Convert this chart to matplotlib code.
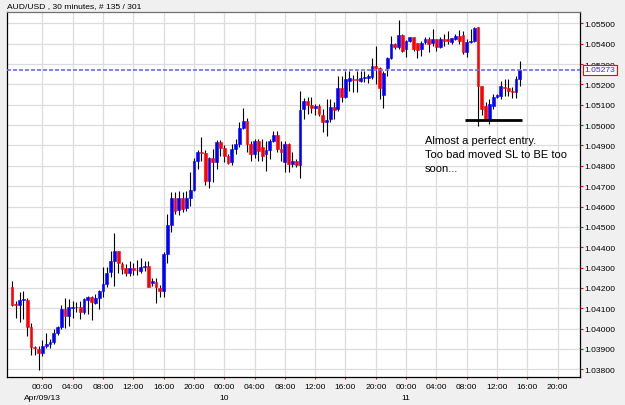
import numpy as np
import pandas as pd
import matplotlib
matplotlib.use("Agg")
import matplotlib.pyplot as plt
import matplotlib.transforms as mtransforms

plt.rcParams["font.family"] = ["Liberation Sans", "DejaVu Sans"]

# ─── Chart data (AUD/USD, 30 min bars from 2013-04-08 20:00) ─────────────────
TITLE      = "AUD/USD , 30 minutes, # 135 / 301"
FIRST_BAR  = "2013-04-08 20:00"
NOTE       = "Almost a perfect entry.\nToo bad moved SL to BE too\nsoon..."

opens = [
    1.04203, 1.04119, 1.04116, 1.04140, 1.04140, 1.04006, 1.03908, 1.03900, 1.03880, 1.03916,
    1.03923, 1.03932, 1.03978, 1.04006, 1.04096, 1.04060, 1.04102, 1.04104, 1.04107, 1.04080,
    1.04140, 1.04154, 1.04126, 1.04150, 1.04186, 1.04219, 1.04276, 1.04330, 1.04380, 1.04317,
    1.04296, 1.04273, 1.04296, 1.04288, 1.04284, 1.04301, 1.04309, 1.04222, 1.04230, 1.04198,
    1.04186, 1.04366, 1.04509, 1.04640, 1.04584, 1.04640, 1.04591, 1.04640, 1.04682, 1.04825,
    1.04866, 1.04861, 1.04727, 1.04838, 1.04820, 1.04915, 1.04886, 1.04849, 1.04820, 1.04882,
    1.04907, 1.04984, 1.05021, 1.04907, 1.04858, 1.04923, 1.04891, 1.04858, 1.04877, 1.04923,
    1.04951, 1.04882, 1.04817, 1.04907, 1.04809, 1.04825, 1.04805, 1.05079, 1.05120, 1.05099,
    1.05082, 1.05095, 1.05051, 1.05016, 1.05030, 1.05087, 1.05079, 1.05181, 1.05139, 1.05218,
    1.05226, 1.05225, 1.05218, 1.05230, 1.05230, 1.05235, 1.05292, 1.05280, 1.05148, 1.05280,
    1.05330, 1.05398, 1.05382, 1.05444, 1.05374, 1.05414, 1.05431, 1.05402, 1.05374, 1.05407,
    1.05423, 1.05402, 1.05423, 1.05382, 1.05423, 1.05423, 1.05407, 1.05423, 1.05439, 1.05443,
    1.05357, 1.05407, 1.05412, 1.05480, 1.05192, 1.05095, 1.05030, 1.05095, 1.05138, 1.05144,
    1.05189, 1.05182, 1.05167, 1.05161, 1.05226,
]
highs = [
    1.04232, 1.04137, 1.04178, 1.04186, 1.04150, 1.04027, 1.03916, 1.03916, 1.03945, 1.03978,
    1.03949, 1.03998, 1.04011, 1.04116, 1.04149, 1.04145, 1.04137, 1.04130, 1.04137, 1.04152,
    1.04161, 1.04161, 1.04170, 1.04191, 1.04301, 1.04301, 1.04380, 1.04470, 1.04383, 1.04328,
    1.04317, 1.04333, 1.04322, 1.04337, 1.04345, 1.04333, 1.04330, 1.04248, 1.04248, 1.04214,
    1.04378, 1.04563, 1.04672, 1.04670, 1.04674, 1.04670, 1.04674, 1.04769, 1.04837, 1.04877,
    1.04940, 1.04877, 1.04843, 1.04882, 1.04927, 1.04927, 1.04902, 1.04858, 1.04907, 1.04931,
    1.05013, 1.05082, 1.05033, 1.04923, 1.04931, 1.04931, 1.04931, 1.04923, 1.04931, 1.04972,
    1.04972, 1.04923, 1.04923, 1.04912, 1.04866, 1.04833, 1.05169, 1.05133, 1.05136, 1.05136,
    1.05103, 1.05103, 1.05079, 1.05128, 1.05128, 1.05112, 1.05243, 1.05243, 1.05267, 1.05267,
    1.05246, 1.05267, 1.05267, 1.05267, 1.05251, 1.05328, 1.05390, 1.05285, 1.05266, 1.05334,
    1.05439, 1.05403, 1.05516, 1.05447, 1.05418, 1.05434, 1.05433, 1.05403, 1.05414, 1.05434,
    1.05431, 1.05472, 1.05425, 1.05431, 1.05447, 1.05464, 1.05430, 1.05447, 1.05467, 1.05462,
    1.05423, 1.05472, 1.05480, 1.05484, 1.05193, 1.05113, 1.05128, 1.05153, 1.05153, 1.05218,
    1.05226, 1.05226, 1.05187, 1.05241, 1.05316,
]
lows = [
    1.04112, 1.04050, 1.04034, 1.04047, 1.03962, 1.03870, 1.03870, 1.03798, 1.03864, 1.03903,
    1.03903, 1.03924, 1.03968, 1.03998, 1.04001, 1.04011, 1.04050, 1.04081, 1.04047, 1.04072,
    1.04072, 1.04043, 1.04121, 1.04096, 1.04154, 1.04203, 1.04252, 1.04211, 1.04273, 1.04268,
    1.04257, 1.04260, 1.04263, 1.04263, 1.04273, 1.04284, 1.04203, 1.04211, 1.04126, 1.04154,
    1.04154, 1.04322, 1.04473, 1.04563, 1.04558, 1.04574, 1.04579, 1.04604, 1.04677, 1.04784,
    1.04825, 1.04705, 1.04691, 1.04722, 1.04784, 1.04849, 1.04820, 1.04809, 1.04804, 1.04858,
    1.04891, 1.04981, 1.04869, 1.04825, 1.04837, 1.04825, 1.04825, 1.04776, 1.04833, 1.04917,
    1.04869, 1.04825, 1.04768, 1.04768, 1.04792, 1.04792, 1.04738, 1.05030, 1.05054, 1.05058,
    1.05049, 1.05046, 1.04964, 1.04948, 1.05013, 1.05030, 1.05071, 1.05115, 1.05131, 1.05169,
    1.05161, 1.05161, 1.05210, 1.05210, 1.05207, 1.05226, 1.05202, 1.05128, 1.05084, 1.05243,
    1.05325, 1.05374, 1.05374, 1.05357, 1.05333, 1.05407, 1.05365, 1.05330, 1.05341, 1.05398,
    1.05357, 1.05390, 1.05362, 1.05379, 1.05388, 1.05398, 1.05398, 1.05418, 1.05398, 1.05349,
    1.05333, 1.05403, 1.05407, 1.04995, 1.05049, 1.05025, 1.05005, 1.05079, 1.05133, 1.05128,
    1.05144, 1.05144, 1.05131, 1.05131, 1.05193,
]
closes = [
    1.04116, 1.04114, 1.04142, 1.04143, 1.04008, 1.03911, 1.03903, 1.03878, 1.03916, 1.03923,
    1.03935, 1.03978, 1.04006, 1.04096, 1.04060, 1.04104, 1.04106, 1.04105, 1.04080, 1.04145,
    1.04154, 1.04129, 1.04150, 1.04183, 1.04219, 1.04273, 1.04330, 1.04380, 1.04321, 1.04293,
    1.04273, 1.04296, 1.04288, 1.04287, 1.04304, 1.04309, 1.04206, 1.04232, 1.04203, 1.04186,
    1.04366, 1.04509, 1.04640, 1.04579, 1.04640, 1.04587, 1.04640, 1.04681, 1.04825, 1.04866,
    1.04861, 1.04727, 1.04837, 1.04820, 1.04915, 1.04886, 1.04849, 1.04814, 1.04882, 1.04907,
    1.04984, 1.05021, 1.04907, 1.04858, 1.04923, 1.04874, 1.04849, 1.04877, 1.04923, 1.04951,
    1.04882, 1.04866, 1.04907, 1.04809, 1.04825, 1.04805, 1.05074, 1.05120, 1.05099, 1.05082,
    1.05095, 1.05054, 1.05013, 1.05025, 1.05087, 1.05075, 1.05181, 1.05139, 1.05226, 1.05230,
    1.05221, 1.05220, 1.05230, 1.05235, 1.05243, 1.05292, 1.05280, 1.05182, 1.05256, 1.05330,
    1.05398, 1.05382, 1.05444, 1.05365, 1.05412, 1.05431, 1.05374, 1.05369, 1.05402, 1.05423,
    1.05398, 1.05423, 1.05382, 1.05423, 1.05413, 1.05412, 1.05428, 1.05439, 1.05414, 1.05357,
    1.05407, 1.05413, 1.05477, 1.05192, 1.05079, 1.05032, 1.05103, 1.05139, 1.05150, 1.05193,
    1.05184, 1.05167, 1.05161, 1.05226, 1.05273,
]

# "entry" line drawn by hand on the chart
ENTRY_LEVEL = 1.05023
ENTRY_FROM  = "2013-04-11 07:45"
ENTRY_TO    = "2013-04-11 15:20"
NOTE_AT     = ("2013-04-11 02:30", 1.04951)

# ─── Axis ranges ─────────────────────────────────────────────────────────────
X_RANGE = ("2013-04-08 19:20", "2013-04-11 22:57")
Y_RANGE = (1.03762, 1.05556)
Y_TICKS = [1.038 + k * 0.001 for k in range(18)]
TICK_FROM, TICK_TO = "2013-04-09 00:00", "2013-04-11 20:00"

START = pd.Timestamp(FIRST_BAR)
STEP  = pd.Timedelta(minutes=30)


def to_bar(t):
    return (pd.Timestamp(t) - START) / STEP


o = np.array(opens); h = np.array(highs); l = np.array(lows); c = np.array(closes)
x = np.arange(len(o))
last_price = c[-1]

fig = plt.figure(figsize=(6.25, 4.06), dpi=100, facecolor="#f0f0f0")
ax = fig.add_axes([7 / 625, 28 / 406, 573 / 625, 365 / 406])
ax.set_facecolor("white")
ax.set_axisbelow(True)

# candles
colors = np.where(c >= o, "#0000ff", "#ff0000")
ax.vlines(x, l, h, color="black", lw=0.8, zorder=2)
ax.bar(x, c - o, bottom=o, width=0.74, color=colors, edgecolor=colors,
       linewidth=0.4, zorder=3)

ax.set_xlim(to_bar(X_RANGE[0]), to_bar(X_RANGE[1]))
ax.set_ylim(*Y_RANGE)

# ticks
tick_times = pd.date_range(TICK_FROM, TICK_TO, freq="4h")
tick_labels = []
for t in tick_times:
    lab = t.strftime("%H:%M")
    if t.hour == 0:
        lab += "\n" + (t.strftime("%b/%d/%y") if t == tick_times[0] else t.strftime("%d"))
    tick_labels.append(lab)
ax.set_xticks([to_bar(t) for t in tick_times])
ax.set_xticklabels(tick_labels, linespacing=1.8, va="top")

ax.yaxis.tick_right()
ax.set_yticks(Y_TICKS)
ax.set_yticklabels([f"{v:.5f}" for v in Y_TICKS])
ax.tick_params(axis="y", colors="red", labelcolor="black", length=2.2, width=0.8,
               pad=0.6, labelsize=6.1)
ax.tick_params(axis="x", colors="red", labelcolor="black", length=1.6, width=0.8,
               pad=3.0, labelsize=6.1)

ax.grid(color="#dcdcdc", lw=0.9)
for side in ["left", "bottom", "right"]:
    ax.spines[side].set_color("black")
    ax.spines[side].set_linewidth(0.9)
ax.spines["top"].set_color("#707070")
ax.spines["top"].set_linewidth(0.9)

# last price line + box (the box covers the 1.05300 label, as on the platform)
ax.axhline(last_price, color="#6a6aff", lw=1.2, ls=(0, (2.4, 1.2)), zorder=4)
trans = mtransforms.blended_transform_factory(ax.transAxes, ax.transData)
ax.text(1.0075, last_price, f"{last_price:.5f}", transform=trans, va="center", ha="left",
        color="#2a2aff", fontsize=6.1, zorder=10, clip_on=False,
        bbox=dict(boxstyle="square,pad=0.18", fc="white", ec="red", lw=0.8))

# entry line and note
ax.hlines(ENTRY_LEVEL, to_bar(ENTRY_FROM), to_bar(ENTRY_TO), color="black", lw=2.0, zorder=5)
ax.text(to_bar(NOTE_AT[0]), NOTE_AT[1], NOTE, va="top", ha="left", fontsize=8,
        linespacing=1.5, color="black")

fig.text(7 / 625, 1 - 7 / 406, TITLE, va="center", ha="left", fontsize=6.1)

fig.savefig("out.png", dpi=100, facecolor=fig.get_facecolor())
